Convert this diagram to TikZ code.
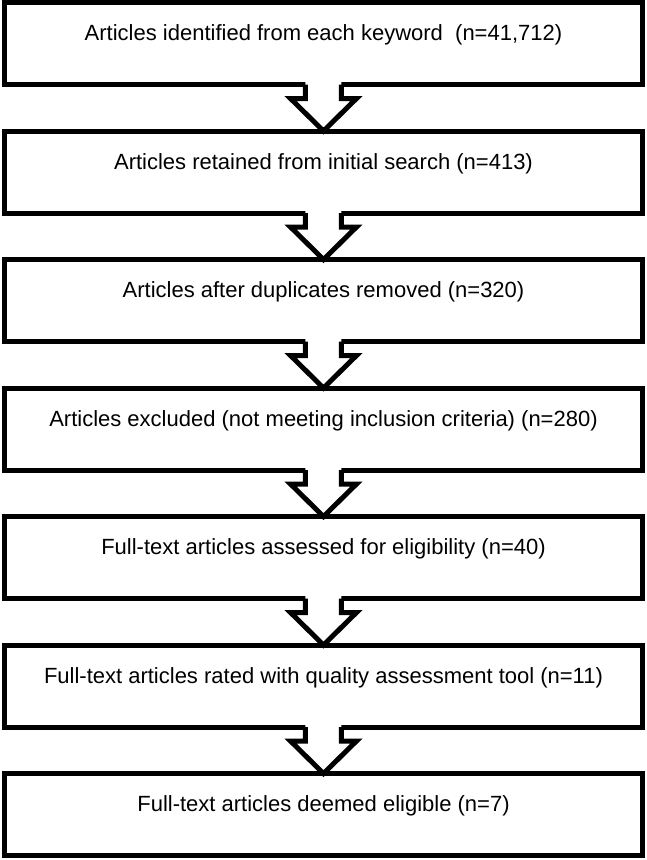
\documentclass[tikz,border=0pt]{standalone}
\usepackage{fontspec}
\setmainfont{Liberation Sans}
\usetikzlibrary{positioning,calc}

\begin{document}
\begin{tikzpicture}[
	stagebox/.style={draw, line width=5pt, outer sep=0pt, inner sep=0pt,
		minimum width=638pt, minimum height=82pt,
		text height=16pt, text depth=22pt,
		font=\fontsize{22}{26}\selectfont},
	flowarrow/.style={line width=5pt}
]

	% Stages
	\node[stagebox] (s1) {Articles identified from each keyword \ (n=41,712)};
	\node[stagebox, below=46.5pt of s1] (s2) {Articles retained from initial search (n=413)};
	\node[stagebox, below=46.5pt of s2] (s3) {Articles after duplicates removed (n=320)};
	\node[stagebox, below=46.5pt of s3] (s4) {Articles excluded (not meeting inclusion criteria) (n=280)};
	\node[stagebox, below=46.5pt of s4] (s5) {Full-text articles assessed for eligibility (n=40)};
	\node[stagebox, below=46.5pt of s5] (s6) {Full-text articles rated with quality assessment tool (n=11)};
	\node[stagebox, below=46.5pt of s6] (s7) {Full-text articles deemed eligible (n=7)};

	% Block arrows between stages
	\foreach \a/\b in {s1/s2,s2/s3,s3/s4,s4/s5,s5/s6,s6/s7}{
		\fill[white] ($(\a.south)+(-18pt,2.7pt)$) -- ($(\a.south)+(-18pt,-14pt)$)
			-- ($(\a.south)+(-33pt,-14pt)$) -- (\b.north)
			-- ($(\a.south)+(33pt,-14pt)$) -- ($(\a.south)+(18pt,-14pt)$)
			-- ($(\a.south)+(18pt,2.7pt)$) -- cycle;
		\draw[flowarrow] ($(\a.south)+(-18pt,0)$) -- ++(0,-14pt) -- ++(-15pt,0)
			-- (\b.north) -- ($(\a.south)+(33pt,-14pt)$) -- ++(-15pt,0) -- ++(0,14pt);
	}

	\useasboundingbox ($(s1.north west)+(-4.5pt,2.5pt)$) rectangle ++(646pt,-860pt);

\end{tikzpicture}
\end{document}
